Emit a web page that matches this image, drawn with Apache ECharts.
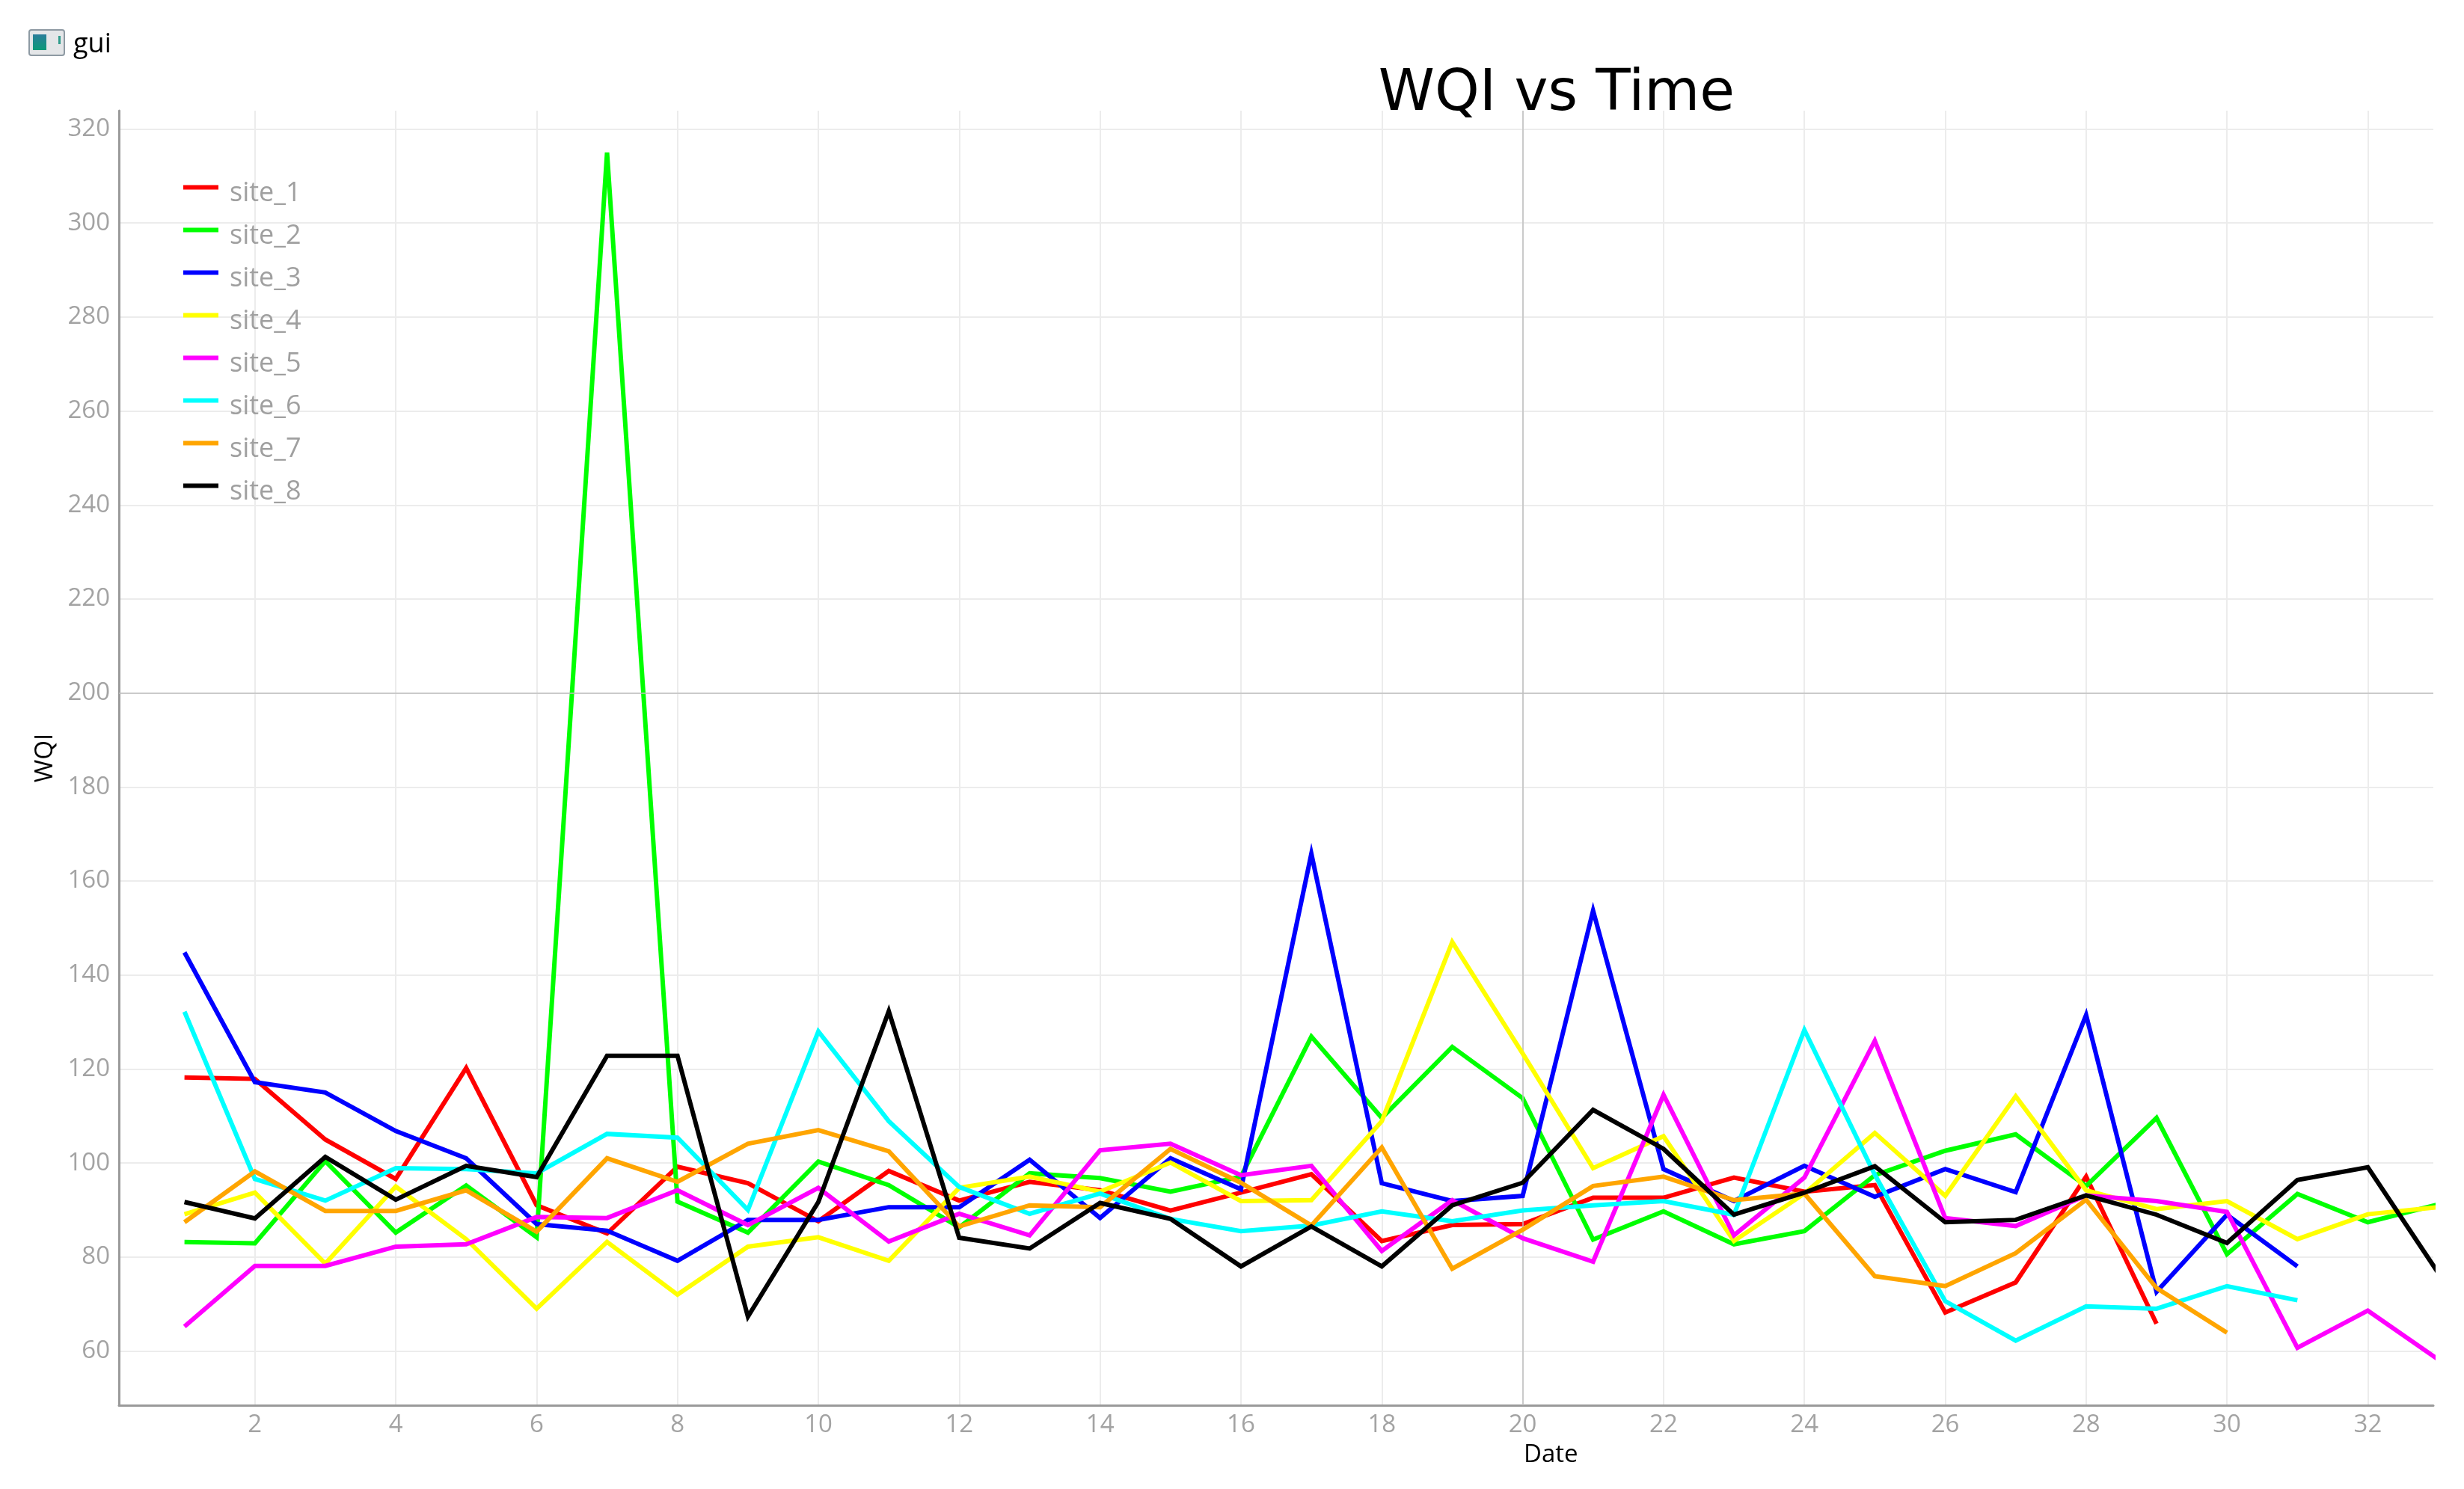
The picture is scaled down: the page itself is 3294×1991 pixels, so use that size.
<!DOCTYPE html>
<html>
<head>
<meta charset="utf-8">
<style>html,body{margin:0;padding:0;background:#fff}#c{width:3294px;height:1991px}</style>
<script src="https://cdn.jsdelivr.net/npm/echarts@6/dist/echarts.min.js"></script>
</head>
<body>
<div id="c"></div>
<script>
const seriesNames = ['site_1','site_2','site_3','site_4','site_5','site_6','site_7','site_8'];
const seriesColors = ['#ff0000','#00ff00','#0000ff','#ffff00','#ff00ff','#00ffff','#ffa500','#000000'];
const xTicks = [2,4,6,8,10,12,14,16,18,20,22,24,26,28,30,32];
const yTicks = [60,80,100,120,140,160,180,200,220,240,260,280,300,320];
const refX = 20;
const refY = 200;

const site_1 = [118.2,117.9,105,96.6,120.2,91,85,99.2,95.7,87.6,98.3,92,96,94.2,89.9,93.7,97.6,83.4,86.8,87,92.6,92.6,96.9,93.9,95.3,68.2,74.6,97.1,65.8];
const site_2 = [83.2,82.9,100.4,85.2,95.2,84.2,315,91.8,85.2,100.3,95.3,86.3,97.8,96.8,93.9,97.1,126.9,109.6,124.7,113.8,83.7,89.7,82.7,85.5,97.4,102.6,106.1,95.1,109.6,80.6,93.4,87.4,91.2];
const site_3 = [144.8,117.2,115,106.8,101,87,85.6,79.2,87.9,87.9,90.6,90.6,100.7,88.3,101,94.4,165.8,95.7,91.9,93,153.7,98.7,91.9,99.4,92.8,98.7,93.8,131.5,72.6,89,78];
const site_4 = [89.1,93.7,78.6,95,83.8,69,83.2,72,82.2,84.2,79.2,94.7,97.1,93.9,100.1,91.9,92.1,108.9,147,123.3,98.9,105.7,83.4,93.5,106.4,93,114.2,94.2,90.2,91.9,83.8,89.1,90.6];
const site_5 = [65.2,78.1,78.1,82.2,82.7,88.5,88.3,94.2,86.8,94.7,83.3,89.2,84.6,102.7,104.1,97.4,99.4,81.3,92.1,84,79,114.5,84.6,96.9,126,88.3,86.6,93.1,91.9,89.6,60.7,68.6,58.2];
const site_6 = [132.2,96.6,92,98.9,98.7,97.8,106.2,105.4,90,128,108.9,94.9,89.2,93.5,88.1,85.5,86.7,89.7,87.6,89.9,91,91.9,89,128.3,97.5,70.6,62.2,69.5,69,73.8,70.8];
const site_7 = [87.4,98.2,89.8,89.8,94.2,85.4,101,96,104.1,107,102.5,86.5,91,90.6,103,95.8,86.7,103.3,77.5,85.8,95.1,97.1,92.1,93.5,75.9,73.8,80.8,92.2,73.4,63.9];
const site_8 = [91.7,88.2,101.3,92.2,99.4,97,122.8,122.8,67.3,91.7,132.3,84.1,81.8,91.5,88.1,78,86.5,78,91,95.8,111.3,103,89,93.7,99.3,87.4,87.9,93.1,89,83,96.4,99.1,76.6];
const seriesValues = [site_1,site_2,site_3,site_4,site_5,site_6,site_7,site_8];

const gridColor = '#ececec';
const tickColor = '#a3a3a3';
const spineColor = '#9a9a9a';
const refColor = '#bfbfbf';
const FONT = '"Open Sans", sans-serif';

const chart = echarts.init(document.getElementById('c'), null, {renderer:'canvas'});

const series = seriesNames.map((name,i)=>({
  name, type:'line', showSymbol:false, symbol:'none', clip:true, animation:false,
  lineStyle:{color:seriesColors[i], width:6, join:'miter', cap:'butt'},
  itemStyle:{color:seriesColors[i]},
  data: seriesValues[i].map((v,j)=>[j+1,v]),
  z: 3+i
}));
series.unshift({
  name:'__ref', type:'line', data:[], silent:true, z:1, symbol:'none',
  markLine:{silent:true, symbol:'none', animation:false, label:{show:false},
    lineStyle:{color:refColor,width:1.5,type:'solid'},
    data:[{xAxis:refX},{yAxis:refY}]}
});

chart.setOption({
  backgroundColor:'#ffffff',
  animation:false,
  title:{text:'WQI vs Time', left:2076, top:84, textAlign:'center',
    textStyle:{fontFamily:'"DejaVu Sans", sans-serif',fontSize:76,fontWeight:'normal',color:'#000'}},
  legend:{
    data:seriesNames, orient:'vertical', left:245, top:241, padding:0, itemWidth:47, itemHeight:23, itemGap:21,
    icon:'path://M0,0 L47,0 L47,6 L0,6 Z M0,23 L0,23 Z', selectedMode:false, align:'left',
    textStyle:{fontFamily:FONT,fontSize:36,color:'#a0a0a0',padding:[0,0,0,10],lineHeight:36}
  },
  grid:{left:159, top:148, width:3094, height:1731, containLabel:false},
  xAxis:{
    type:'value', min:0.0696, max:32.93,
    axisLine:{show:true,onZero:false,lineStyle:{color:spineColor,width:3}},
    axisTick:{show:false,customValues:xTicks},
    axisLabel:{color:tickColor,fontFamily:FONT,fontSize:33,margin:10,customValues:xTicks},
    splitLine:{show:true,lineStyle:{color:gridColor,width:2}}
  },
  yAxis:{
    type:'value', min:48.46, max:323.9, name:'WQI', nameLocation:'middle', nameGap:82,
    nameTextStyle:{fontFamily:FONT,fontSize:33,fontWeight:500,color:'#000'},
    axisLine:{show:true,onZero:false,lineStyle:{color:spineColor,width:3}},
    axisTick:{show:false,customValues:yTicks},
    axisLabel:{color:tickColor,fontFamily:FONT,fontSize:33,margin:12,padding:[8,0,0,0],customValues:yTicks},
    splitLine:{show:true,lineStyle:{color:gridColor,width:2}}
  },
  graphic:[
    {type:'rect',left:38,top:39,shape:{width:47,height:34,r:3},style:{fill:'#e4e6e8',stroke:'#8e9aa3',lineWidth:2}},
    {type:'rect',left:44,top:46,shape:{width:18,height:21},style:{fill:new echarts.graphic.LinearGradient(0,0,0,1,[{offset:0,color:'#2a7d9a'},{offset:1,color:'#0b9a78'}])}},
    {type:'rect',left:78,top:48,shape:{width:3,height:11},style:{fill:'#2f9c8c'}},
    {type:'text',left:98,top:42,style:{text:'gui',fontFamily:FONT,fontSize:36,fill:'#000'}},
    {type:'text',left:2037,top:1929,style:{text:'Date',fontFamily:FONT,fontSize:33,fontWeight:500,fill:'#000'}}
  ],
  series
});
</script>
</body>
</html>
